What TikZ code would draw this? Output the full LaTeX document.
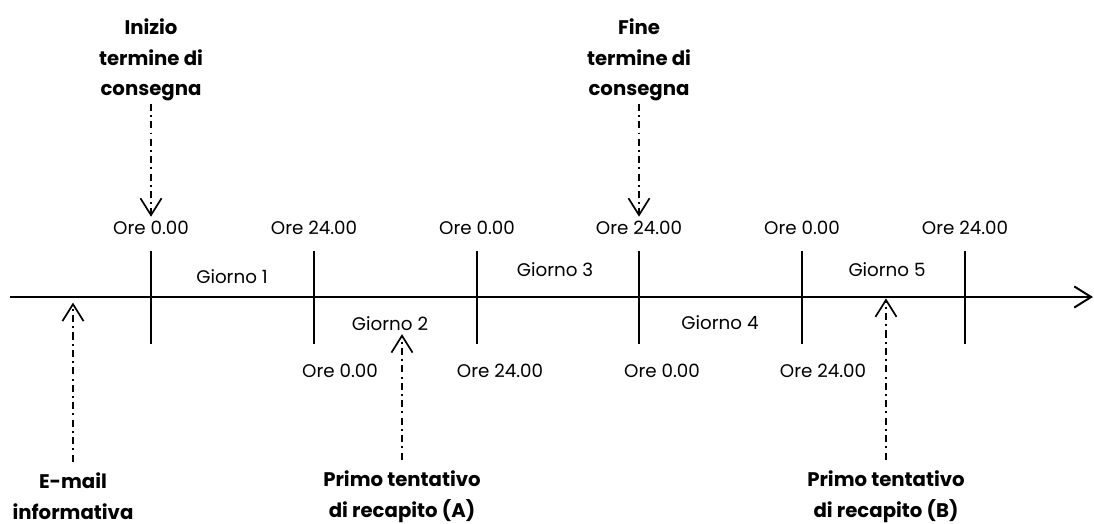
\documentclass[tikz,border=0pt]{standalone}
\usepackage{fontspec}
\setmainfont{Poppins}
\usetikzlibrary{arrows.meta}
\tikzstyle{fleche} = [-{Straight Barb[length=12pt,width=15pt]},line width=1.2pt,dash pattern=on 5pt off 3pt on 1.4pt off 3pt]
\tikzstyle{axe} = [-{Straight Barb[length=12pt,width=15pt]},line width=1.4pt]
\tikzstyle{trait} = [line width=1.4pt]
\tikzstyle{heure} = [font=\fontsize{13}{16}\selectfont,inner sep=3pt]
\tikzstyle{jour} = [font=\fontsize{13}{16}\selectfont,inner sep=2pt]
\tikzstyle{evenement} = [font=\fontsize{14}{21.5}\selectfont\bfseries,align=center,inner sep=2pt,anchor=north]

\begin{document}
\begin{tikzpicture}[x=0.025cm,y=-0.025cm]
	\useasboundingbox (0,0) rectangle (1094,524);

	% axe du temps
	\coordinate (A0) at (10,297);
	\coordinate (A1) at (1093,297);
	\draw[axe] (A0) -- (A1);

	\draw[trait] (151,251) -- (151,344);
	\draw[trait] (314,251) -- (314,344);
	\draw[trait] (477,251) -- (477,344);
	\draw[trait] (639,251) -- (639,344);
	\draw[trait] (802,251) -- (802,344);
	\draw[trait] (965,251) -- (965,344);

	% heures
	\node[heure] (H1) at (151,228) {Ore 0.00};
	\node[heure] (H2) at (314,228) {Ore 24.00};
	\node[heure] (H3) at (477,228) {Ore 0.00};
	\node[heure] (H4) at (639,228) {Ore 24.00};
	\node[heure] (H5) at (802,228) {Ore 0.00};
	\node[heure] (H6) at (965,228) {Ore 24.00};

	\node[heure] (B2) at (340,371) {Ore 0.00};
	\node[heure] (B3) at (500,371) {Ore 24.00};
	\node[heure] (B4) at (662,371) {Ore 0.00};
	\node[heure] (B5) at (823,371) {Ore 24.00};

	% jours
	\node[jour] (G1) at (232,277) {Giorno 1};
	\node[jour] (G2) at (390,324) {Giorno 2};
	\node[jour] (G3) at (555,270) {Giorno 3};
	\node[jour] (G4) at (720,323) {Giorno 4};
	\node[jour] (G5) at (887,270) {Giorno 5};

	% evenements
	\node[evenement] (IN) at (151,16) {Inizio\\termine di\\consegna};
	\node[evenement] (FI) at (639,16) {Fine\\termine di\\consegna};
	\node[evenement] (EM) at (73,470) {E-mail\\informativa};
	\node[evenement] (PA) at (402,468) {Primo tentativo\\di recapito (A)};
	\node[evenement] (PB) at (886,468) {Primo tentativo\\di recapito (B)};

	\coordinate (EMx) at (73,297);
	\coordinate (PBx) at (886,297);

	\draw[fleche] (IN) -- (H1);
	\draw[fleche] (FI) -- (H4);
	\draw[fleche,shorten <=6pt,shorten >=4pt] (EM) -- (EMx);
	\draw[fleche,shorten <=6pt] (PA) -- (PA |- G2.south);
	\draw[fleche,shorten <=6pt,shorten >=1pt] (PB) -- (PBx);

\end{tikzpicture}
\end{document}
